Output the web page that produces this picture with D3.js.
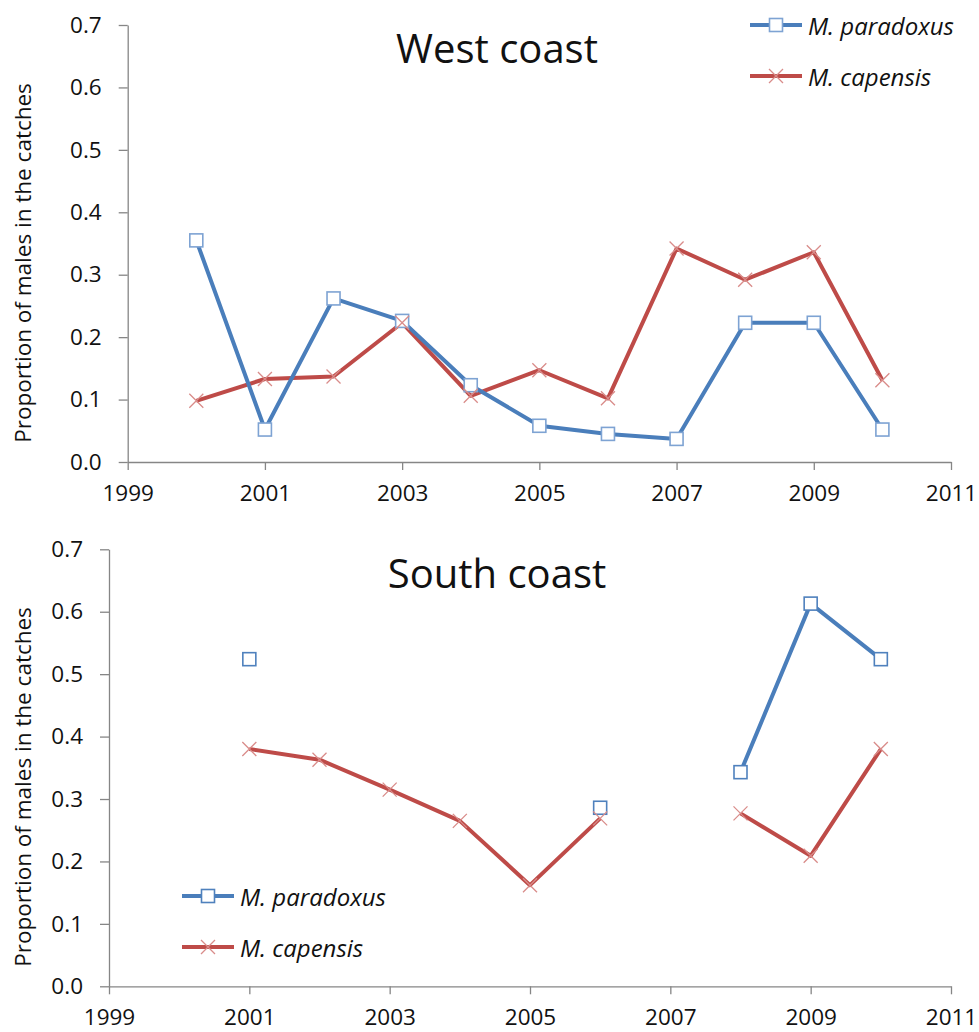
<!DOCTYPE html>
<html>
<head>
<meta charset="utf-8">
<script src="https://d3js.org/d3.v7.min.js"></script>
<style>
  body { margin: 0; background: #fff; }
  svg { display: block; }
  text { font-family: "Open Sans", sans-serif; fill: #111; }
</style>
</head>
<body>
<svg id="chart" width="979" height="1032"></svg>
<script>
const years = [2000, 2001, 2002, 2003, 2004, 2005, 2006, 2007, 2008, 2009, 2010];
const xTicks = [1999, 2001, 2003, 2005, 2007, 2009, 2011];
const yTicks = [0, 0.1, 0.2, 0.3, 0.4, 0.5, 0.6, 0.7];
const seriesNames = ["M. paradoxus", "M. capensis"];

const westParadoxus = [0.355, 0.052, 0.262, 0.226, 0.123, 0.058, 0.045, 0.037, 0.223, 0.223, 0.052];
const westCapensis  = [0.098, 0.133, 0.137, 0.223, 0.106, 0.147, 0.102, 0.342, 0.292, 0.336, 0.131];

const southParadoxus = [null, 0.524, null, null, null, null, 0.286, null, 0.343, 0.613, 0.524];
const southCapensis  = [null, 0.380, 0.363, 0.315, 0.265, 0.162, 0.269, null, 0.277, 0.209, 0.380];

const svg = d3.select("#chart");

const BLUE = "#4A7EBB", BLUE_MK = "#4F81BD", RED = "#BE4B48", RED_MK = "#D98C8A", AXIS = "#868686";

function panel(cfg) {
  const g = svg.append("g");
  const x = d3.scaleLinear().domain([1999, 2011]).range([cfg.left, cfg.right]);
  const y = d3.scaleLinear().domain([0, 0.7]).range([cfg.bottom, cfg.top]);

  const ya = g.append("g").attr("transform", `translate(${cfg.left},0)`)
    .call(d3.axisLeft(y).tickValues(yTicks).tickFormat(d3.format(".1f")).tickSize(9).tickSizeOuter(0).tickPadding(17));
  const xa = g.append("g").attr("transform", `translate(0,${cfg.bottom})`)
    .call(d3.axisBottom(x).tickValues(xTicks).tickFormat(d3.format("d")).tickSize(8).tickSizeOuter(0).tickPadding(15));
  [ya, xa].forEach(a => {
    a.select(".domain").attr("stroke", AXIS).attr("stroke-width", 1.3);
    a.selectAll(".tick line").attr("stroke", AXIS).attr("stroke-width", 1.3);
    a.selectAll(".tick text").style("font-size", "22.5px").attr("fill", "#111");
  });

  g.append("text")
    .attr("transform", `translate(22,${cfg.labelY}) rotate(-90)`)
    .attr("text-anchor", "middle").attr("dominant-baseline", "central")
    .style("font-size", "22.5px")
    .text("Proportion of males in the catches");

  g.append("text").attr("x", cfg.titleX).attr("y", cfg.titleY)
    .attr("text-anchor", "middle").style("font-size", "40px").text(cfg.title);

  const pts = (vals) => years.map((yr, i) => ({ yr, v: vals[i] }));
  const line = d3.line().defined(d => d.v != null).x(d => x(d.yr)).y(d => y(d.v));

  const cap = pts(cfg.capensis);
  g.append("path").datum(cap).attr("d", line).attr("fill", "none")
    .attr("stroke", RED).attr("stroke-width", 4).attr("stroke-linejoin", "round");
  const par = pts(cfg.paradoxus);
  g.append("path").datum(par).attr("d", line).attr("fill", "none")
    .attr("stroke", BLUE).attr("stroke-width", 4).attr("stroke-linejoin", "round");

  g.selectAll(".sq").data(par.filter(d => d.v != null)).join("rect")
    .attr("x", d => x(d.yr) - 6.5).attr("y", d => y(d.v) - 6.5)
    .attr("width", 13).attr("height", 13)
    .attr("fill", cfg.sqFill).attr("stroke", cfg.sqStroke).attr("stroke-width", 1.6);

  const xs = 7;
  g.selectAll(".xm").data(cap.filter(d => d.v != null)).join("path")
    .attr("d", d => {
      const cx = x(d.yr), cy = y(d.v);
      return `M${cx - xs},${cy - xs}L${cx + xs},${cy + xs}M${cx - xs},${cy + xs}L${cx + xs},${cy - xs}`;
    })
    .attr("stroke", RED_MK).attr("stroke-width", 1.3).attr("fill", "none");

  const lg = g.append("g");
  cfg.legend.forEach((it, i) => {
    const ly = cfg.legY + i * cfg.legGap;
    const color = i === 0 ? BLUE : RED;
    lg.append("line").attr("x1", cfg.legX).attr("x2", cfg.legX + 52).attr("y1", ly).attr("y2", ly)
      .attr("stroke", color).attr("stroke-width", 4);
    const cx = cfg.legX + 26;
    if (i === 0) {
      lg.append("rect").attr("x", cx - 6.5).attr("y", ly - 6.5).attr("width", 13).attr("height", 13)
        .attr("fill", "#fff").attr("stroke", cfg.sqStroke).attr("stroke-width", 1.6);
    } else {
      lg.append("path").attr("d", `M${cx - xs},${ly - xs}L${cx + xs},${ly + xs}M${cx - xs},${ly + xs}L${cx + xs},${ly - xs}`)
        .attr("stroke", RED_MK).attr("stroke-width", 1.3);
    }
    lg.append("text").attr("x", cfg.legX + 58).attr("y", ly).attr("dominant-baseline", "central")
      .style("font-size", "24px").style("font-style", "italic").text(it);
  });
}

panel({
  left: 127.7, right: 951, top: 25, bottom: 462,
  labelY: 263, title: "West coast", titleX: 497, titleY: 63,
  paradoxus: westParadoxus, capensis: westCapensis,
  sqFill: "#fff", sqStroke: "#7EA3D3",
  legend: seriesNames, legX: 750, legY: 25, legGap: 51
});

panel({
  left: 109, right: 951, top: 549.3, bottom: 986.3,
  labelY: 787, title: "South coast", titleX: 497, titleY: 588,
  paradoxus: southParadoxus, capensis: southCapensis,
  sqFill: "#fff", sqStroke: BLUE_MK,
  legend: seriesNames, legX: 182, legY: 896, legGap: 51
});
</script>
</body>
</html>
